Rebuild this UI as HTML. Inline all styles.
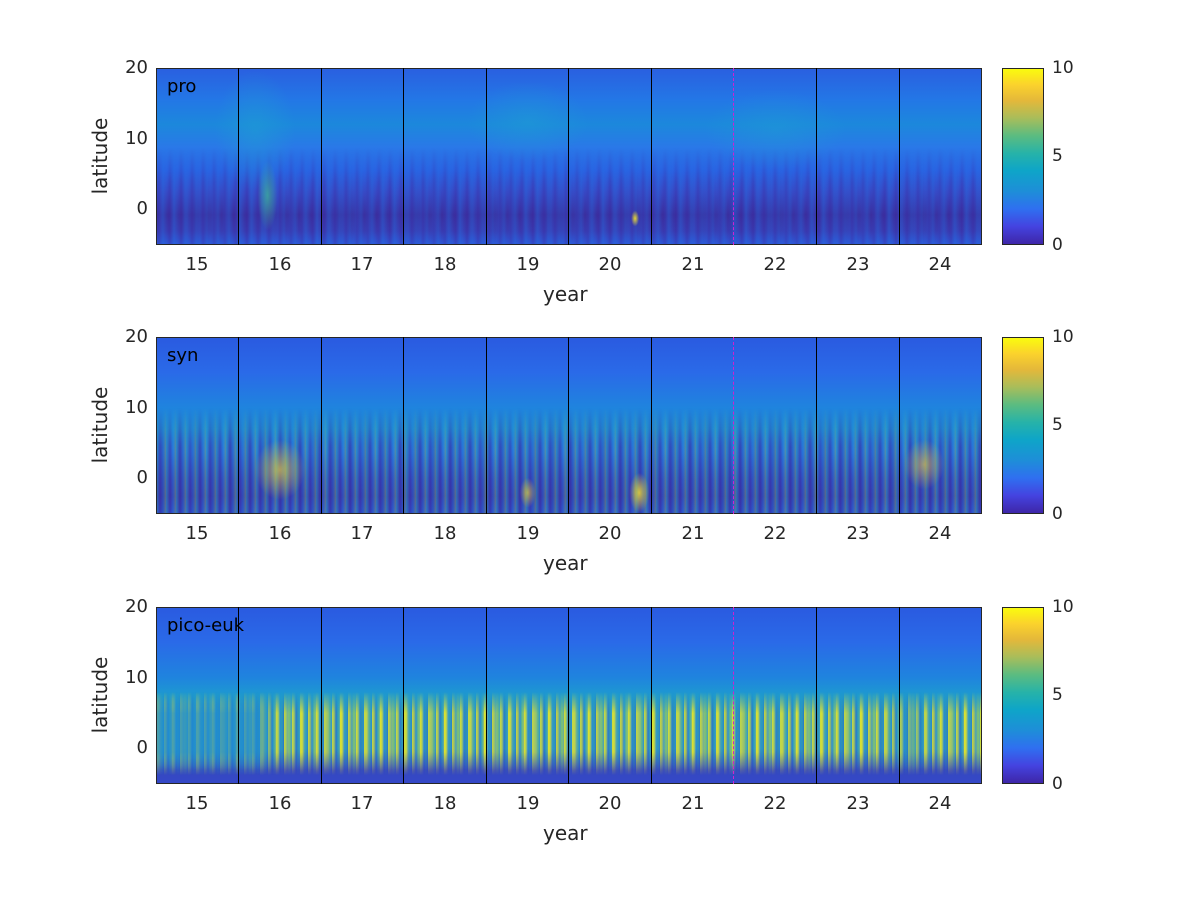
<!DOCTYPE html>
<html><head><meta charset="utf-8">
<style>
html,body{margin:0;padding:0;background:#fff;}
body{width:1200px;height:900px;position:relative;overflow:hidden;font-family:"DejaVu Sans","Liberation Sans",sans-serif;color:#262626;}
.ax{position:absolute;left:156px;width:826px;height:177px;overflow:hidden;}
.lay{position:absolute;left:0;top:0;width:100%;height:100%;}
.cb{position:absolute;left:1002px;width:42px;height:177px;border:1px solid #262626;box-sizing:border-box;
background:linear-gradient(to top,#3e26a8 0%,#4443e0 10%,#2f6ff0 20%,#1e8ed8 30%,#0ea5c8 42%,#27b3a8 52%,#5cbc80 62%,#a9bd5a 72%,#e4b83a 82%,#fbd22c 91%,#f9fb0e 100%);}
.t{position:absolute;font-size:20px;}
.tk{position:absolute;font-size:18px;width:40px;text-align:center;}
.yl{position:absolute;font-size:18px;text-align:right;width:40px;}
.cl{position:absolute;font-size:17px;}
.lab{position:absolute;font-size:18px;color:#000;}
.bord{position:absolute;left:156px;width:826px;height:177px;border:1px solid #262626;box-sizing:border-box;}
.v{position:absolute;width:1px;height:177px;background:#000;}
.m{position:absolute;width:0;height:177px;border-left:1px dashed #d020d0;}
</style></head><body>

<!-- Panel 1 -->
<div class="ax" style="top:68px;">
 <div class="lay" style="background:linear-gradient(to bottom,#2a5fe0 0%,#2377e6 18%,#1c88dc 32%,#2a78e8 45%,#2a62e2 58%,#3848c4 70%,#3b2e9e 83%,#3a3ab0 92%,#2e58d8 100%);"></div>
 <div class="lay" style="background:repeating-linear-gradient(to right,transparent 0px,rgba(60,40,160,0.3) 3px,rgba(30,120,230,0.2) 7px,transparent 11px),repeating-linear-gradient(to right,transparent 0px,rgba(40,110,230,0.25) 5px,transparent 13px);-webkit-mask-image:linear-gradient(to bottom,transparent 45%,#000 65%,#000 100%);"></div>
 <div class="lay" style="background:radial-gradient(ellipse 40px 60px at 12% 35%,rgba(30,160,210,.5),transparent),radial-gradient(ellipse 60px 40px at 45% 30%,rgba(30,160,210,.45),transparent),radial-gradient(ellipse 70px 40px at 75% 35%,rgba(30,160,210,.4),transparent),radial-gradient(ellipse 10px 35px at 13.5% 72%,rgba(60,190,150,.7),transparent),radial-gradient(ellipse 4px 8px at 58% 85%,rgba(250,230,40,.9),transparent);"></div>
</div>
<div class="bord" style="top:68px;"></div>

<!-- Panel 2 -->
<div class="ax" style="top:337px;">
 <div class="lay" style="background:linear-gradient(to bottom,#2a5ae0 0%,#2a6ae8 20%,#1f84de 40%,#1f8ed8 52%,#2a72e2 65%,#3548c0 80%,#3a3ab0 90%,#3050d0 100%);"></div>
 <div class="lay" style="background:repeating-linear-gradient(to right,rgba(40,190,190,0.45) 0px,rgba(60,40,160,0.45) 4px,rgba(30,140,220,0.25) 7px,rgba(140,190,90,0.4) 10px),repeating-linear-gradient(to right,transparent 0,rgba(50,40,150,.35) 6px,transparent 17px);-webkit-mask-image:linear-gradient(to bottom,transparent 40%,#000 62%,#000 100%);"></div>
 <div class="lay" style="background:radial-gradient(ellipse 25px 30px at 15% 75%,rgba(250,220,40,.6),transparent),radial-gradient(ellipse 10px 20px at 58.5% 88%,rgba(250,230,40,.8),transparent),radial-gradient(ellipse 20px 25px at 93% 72%,rgba(250,200,50,.55),transparent),radial-gradient(ellipse 8px 15px at 45% 88%,rgba(250,220,40,.6),transparent);"></div>
</div>
<div class="bord" style="top:337px;"></div>

<!-- Panel 3 -->
<div class="ax" style="top:607px;">
 <div class="lay" style="background:linear-gradient(to bottom,#2a5ae0 0%,#2a6ae8 20%,#1f84de 40%,#1e9ad0 50%,#2a92d4 62%,#2a8ed8 80%,#3548c0 92%,#3548c8 100%);"></div>
 <div class="lay" style="background:repeating-linear-gradient(to right,rgba(249,240,20,0.75) 0px,rgba(249,240,20,0.6) 2px,transparent 4px,rgba(60,190,130,0.35) 6px,transparent 8px),repeating-linear-gradient(to right,transparent 0,rgba(249,240,20,.55) 3px,transparent 7px,rgba(40,60,180,.3) 11px,transparent 13px);-webkit-mask-image:linear-gradient(to bottom,transparent 48%,#000 60%,#000 82%,transparent 95%);"></div>
 <div class="lay" style="background:linear-gradient(to right,rgba(30,140,210,.75) 0%,rgba(30,140,210,.75) 12%,transparent 15%,transparent 88%,rgba(30,140,210,.35) 91%,transparent 94%);-webkit-mask-image:linear-gradient(to bottom,transparent 48%,#000 60%,#000 82%,transparent 95%);"></div>
</div>
<div class="bord" style="top:607px;"></div>

<div class="v" style="left:238px;top:68px"></div><div class="v" style="left:321px;top:68px"></div><div class="v" style="left:403px;top:68px"></div><div class="v" style="left:486px;top:68px"></div><div class="v" style="left:568px;top:68px"></div><div class="v" style="left:651px;top:68px"></div><div class="m" style="left:733px;top:68px"></div><div class="v" style="left:816px;top:68px"></div><div class="v" style="left:899px;top:68px"></div>
<div class="v" style="left:238px;top:337px"></div><div class="v" style="left:321px;top:337px"></div><div class="v" style="left:403px;top:337px"></div><div class="v" style="left:486px;top:337px"></div><div class="v" style="left:568px;top:337px"></div><div class="v" style="left:651px;top:337px"></div><div class="m" style="left:733px;top:337px"></div><div class="v" style="left:816px;top:337px"></div><div class="v" style="left:899px;top:337px"></div>
<div class="v" style="left:238px;top:607px"></div><div class="v" style="left:321px;top:607px"></div><div class="v" style="left:403px;top:607px"></div><div class="v" style="left:486px;top:607px"></div><div class="v" style="left:568px;top:607px"></div><div class="v" style="left:651px;top:607px"></div><div class="m" style="left:733px;top:607px"></div><div class="v" style="left:816px;top:607px"></div><div class="v" style="left:899px;top:607px"></div>

<div class="lab" style="left:167px;top:76px;">pro</div>
<div class="lab" style="left:167px;top:345px;">syn</div>
<div class="lab" style="left:167px;top:615px;">pico-euk</div>

<div class="cb" style="top:68px;"></div>
<div class="cb" style="top:337px;"></div>
<div class="cb" style="top:607px;"></div>
<div class="cl" style="left:1052px;top:58px">10</div><div class="cl" style="left:1052px;top:146px">5</div><div class="cl" style="left:1052px;top:235px">0</div>
<div class="cl" style="left:1052px;top:327px">10</div><div class="cl" style="left:1052px;top:415px">5</div><div class="cl" style="left:1052px;top:504px">0</div>
<div class="cl" style="left:1052px;top:597px">10</div><div class="cl" style="left:1052px;top:685px">5</div><div class="cl" style="left:1052px;top:774px">0</div>

<div class="yl" style="left:108px;top:57px">20</div><div class="yl" style="left:108px;top:128px">10</div><div class="yl" style="left:108px;top:198px">0</div>
<div class="yl" style="left:108px;top:326px">20</div><div class="yl" style="left:108px;top:397px">10</div><div class="yl" style="left:108px;top:467px">0</div>
<div class="yl" style="left:108px;top:596px">20</div><div class="yl" style="left:108px;top:667px">10</div><div class="yl" style="left:108px;top:737px">0</div>
<div class="t" style="left:50px;top:144px;transform:rotate(-90deg);width:100px;text-align:center;">latitude</div>
<div class="t" style="left:50px;top:413px;transform:rotate(-90deg);width:100px;text-align:center;">latitude</div>
<div class="t" style="left:50px;top:683px;transform:rotate(-90deg);width:100px;text-align:center;">latitude</div>

<div style="position:absolute;left:0;top:254px;width:1200px;height:30px;">
<div class="tk" style="left:177px">15</div><div class="tk" style="left:260px">16</div><div class="tk" style="left:342px">17</div><div class="tk" style="left:425px">18</div><div class="tk" style="left:508px">19</div><div class="tk" style="left:590px">20</div><div class="tk" style="left:673px">21</div><div class="tk" style="left:755px">22</div><div class="tk" style="left:838px">23</div><div class="tk" style="left:920px">24</div></div>
<div style="position:absolute;left:0;top:523px;width:1200px;height:30px;">
<div class="tk" style="left:177px">15</div><div class="tk" style="left:260px">16</div><div class="tk" style="left:342px">17</div><div class="tk" style="left:425px">18</div><div class="tk" style="left:508px">19</div><div class="tk" style="left:590px">20</div><div class="tk" style="left:673px">21</div><div class="tk" style="left:755px">22</div><div class="tk" style="left:838px">23</div><div class="tk" style="left:920px">24</div></div>
<div style="position:absolute;left:0;top:793px;width:1200px;height:30px;">
<div class="tk" style="left:177px">15</div><div class="tk" style="left:260px">16</div><div class="tk" style="left:342px">17</div><div class="tk" style="left:425px">18</div><div class="tk" style="left:508px">19</div><div class="tk" style="left:590px">20</div><div class="tk" style="left:673px">21</div><div class="tk" style="left:755px">22</div><div class="tk" style="left:838px">23</div><div class="tk" style="left:920px">24</div></div>
<div class="t" style="left:543px;top:282px">year</div>
<div class="t" style="left:543px;top:551px">year</div>
<div class="t" style="left:543px;top:821px">year</div>
</body></html>
